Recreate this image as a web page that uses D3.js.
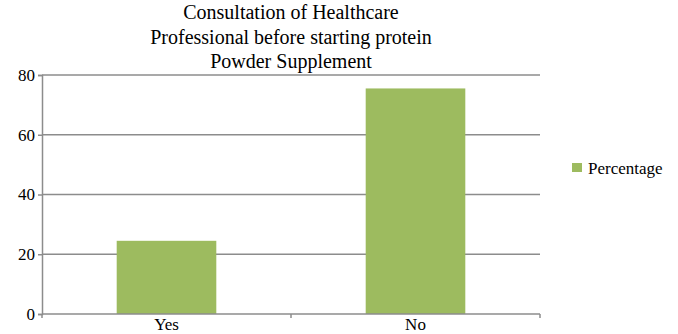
<!DOCTYPE html>
<html>
<head>
<meta charset="utf-8">
<script src="https://cdn.jsdelivr.net/npm/d3@7"></script>
<style>
  html, body { margin: 0; padding: 0; background: #fff; }
  svg { display: block; }
  text { font-family: "Liberation Serif", "Times New Roman", serif; fill: #000; }
</style>
</head>
<body>
<div id="chart"></div>
<script>
// Chart data
const categories = ["Yes", "No"];
const percentages = [24.5, 75.5];
const yTicks = [0, 20, 40, 60, 80];
const seriesName = "Percentage";
const titleLines = [
  "Consultation of Healthcare",
  "Professional before starting protein",
  "Powder Supplement"
];

const width = 678, height = 334;
const plot = { left: 42, right: 540, top: 75, bottom: 314 };
const barColor = "#9dbb5f";
const gridColor = "#8c8c8c";

const svg = d3.select("#chart").append("svg")
  .attr("width", width).attr("height", height);

const x = d3.scaleBand()
  .domain(categories)
  .range([plot.left, plot.right])
  .paddingInner(0.6)
  .paddingOuter(0.3);

const y = d3.scaleLinear()
  .domain([0, 80])
  .range([plot.bottom, plot.top]);

// Horizontal gridlines
svg.append("g")
  .selectAll("line")
  .data(yTicks.filter(d => d !== 0))
  .join("line")
  .attr("x1", plot.left).attr("x2", plot.right)
  .attr("y1", d => y(d)).attr("y2", d => y(d))
  .attr("stroke", gridColor).attr("stroke-width", 1.5);

// Bars
svg.append("g")
  .selectAll("rect")
  .data(percentages)
  .join("rect")
  .attr("x", (d, i) => x(categories[i]))
  .attr("width", x.bandwidth())
  .attr("y", d => y(d))
  .attr("height", d => y(0) - y(d))
  .attr("fill", barColor);

// Y axis
const yAxis = svg.append("g")
  .attr("transform", `translate(${plot.left},0)`)
  .call(d3.axisLeft(y).tickValues(yTicks).tickSize(4).tickPadding(3).tickFormat(d3.format("d")));
yAxis.selectAll("path, line").attr("stroke", gridColor).attr("stroke-width", 1.5);
yAxis.selectAll("text").style("font-size", "17px").style("font-family", "Liberation Serif, serif").attr("fill", "#000");

// X axis: ticks sit at category boundaries, labels at centres
const xAxisG = svg.append("g").attr("transform", `translate(0,${plot.bottom})`);
xAxisG.append("line")
  .attr("x1", plot.left).attr("x2", plot.right)
  .attr("stroke", gridColor).attr("stroke-width", 1.5);
const boundaries = [plot.left, (plot.left + plot.right) / 2, plot.right];
xAxisG.selectAll("line.tick")
  .data(boundaries)
  .join("line")
  .attr("class", "tick")
  .attr("x1", d => d).attr("x2", d => d)
  .attr("y1", 0).attr("y2", 4)
  .attr("stroke", gridColor).attr("stroke-width", 1.5);
xAxisG.selectAll("text")
  .data(categories)
  .join("text")
  .attr("x", d => x(d) + x.bandwidth() / 2)
  .attr("y", 16)
  .attr("text-anchor", "middle")
  .style("font-size", "17px")
  .text(d => d);

// Title
svg.append("g")
  .selectAll("text")
  .data(titleLines)
  .join("text")
  .attr("x", 291)
  .attr("y", (d, i) => 19 + i * 24.5)
  .attr("text-anchor", "middle")
  .style("font-size", "20px")
  .text(d => d);

// Legend
const legend = svg.append("g").attr("transform", "translate(572,163)");
legend.append("rect").attr("width", 10).attr("height", 9).attr("fill", barColor);
legend.append("text")
  .attr("x", 16).attr("y", 5).attr("dy", "0.35em")
  .style("font-size", "17px")
  .text(seriesName);
</script>
</body>
</html>
